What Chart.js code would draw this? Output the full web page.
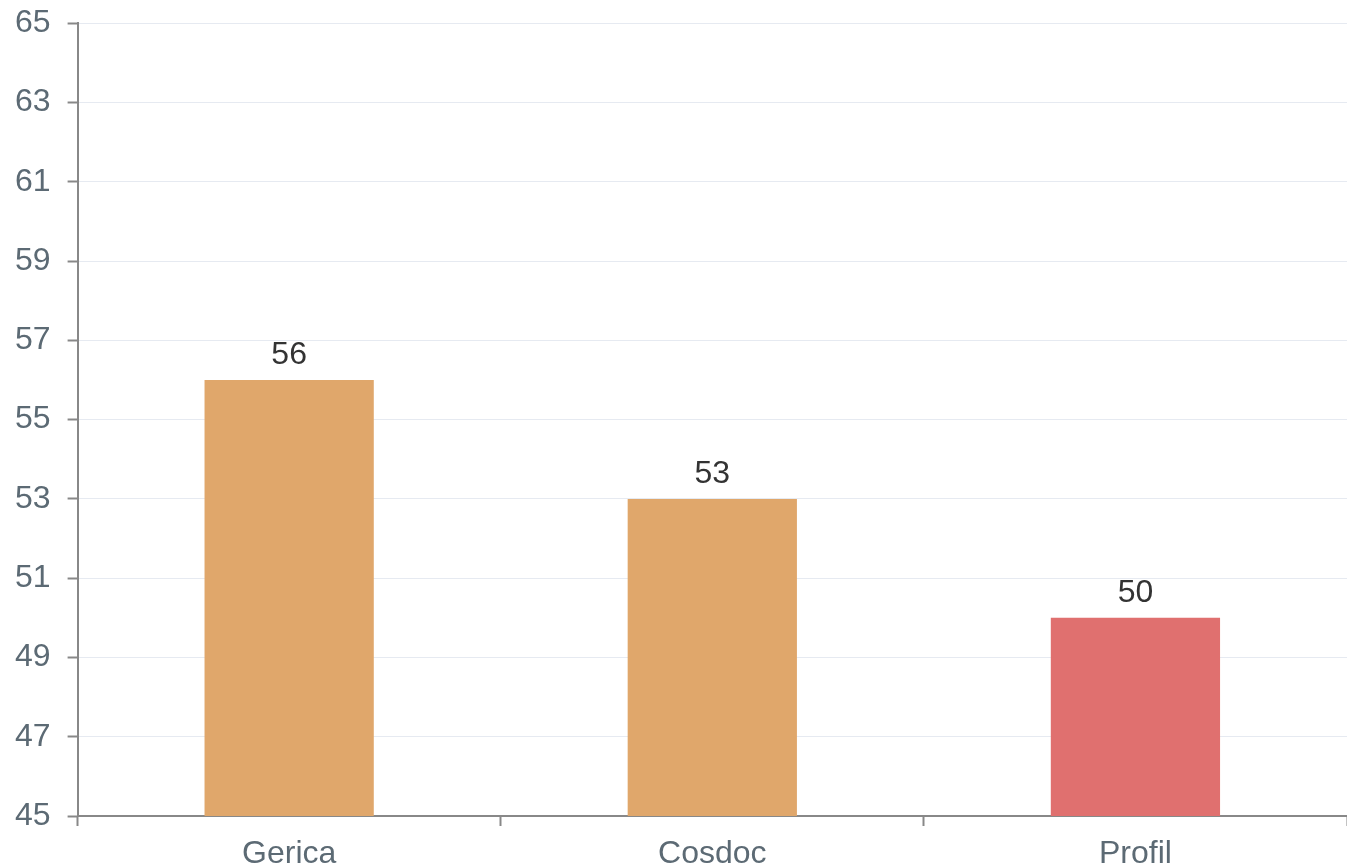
<!DOCTYPE html>
<html lang="en">
<head>
  <meta charset="UTF-8">
  <title>Bar chart</title>
  <script src="https://cdn.jsdelivr.net/npm/chart.js"></script>
  <style>
    html, body {
      margin: 0;
      padding: 0;
      background-color: #fff;
      overflow: hidden;
    }
    #wrap {
      width: 1357px;
      height: 881px;
      margin: -13px 0 0 -10px;
    }
  </style>
</head>
<body>
  <div id="wrap">
    <canvas id="barChart"></canvas>
  </div>

  <script>
    const categories = ['Gerica', 'Cosdoc', 'Profil'];
    const values = [56, 53, 50];
    const barColors = ['#E0A76B', '#E0A76B', '#E0706F'];
    const yMin = 45;
    const yMax = 65;
    const yStep = 2;

    const fontFamily = '"Liberation Sans", Arial, sans-serif';

    // draws the value above each bar
    const valueLabels = {
      id: 'valueLabels',
      afterDatasetsDraw(chart) {
        const ctx = chart.ctx;
        ctx.save();
        ctx.font = '32px ' + fontFamily;
        ctx.fillStyle = '#333333';
        ctx.textAlign = 'center';
        ctx.textBaseline = 'alphabetic';
        chart.getDatasetMeta(0).data.forEach((bar, i) => {
          ctx.fillText(values[i], bar.x, bar.y - 16);
        });
        ctx.restore();
      }
    };

    const ctx = document.getElementById('barChart').getContext('2d');

    new Chart(ctx, {
      type: 'bar',
      data: {
        labels: categories,
        datasets: [{
          data: values,
          backgroundColor: barColors,
          barPercentage: 0.4,
          categoryPercentage: 1.0
        }]
      },
      options: {
        responsive: true,
        maintainAspectRatio: false,
        animation: false,
        layout: {
          padding: { left: 8, top: 0, right: 0, bottom: 0 }
        },
        plugins: {
          legend: { display: false },
          tooltip: { enabled: false }
        },
        scales: {
          x: {
            afterFit(scale) {
              scale.height = 52;
            },
            grid: {
              drawOnChartArea: false,
              tickColor: '#888888',
              tickLength: 10,
              tickWidth: 2
            },
            border: { color: '#888888', width: 2 },
            ticks: {
              color: '#5c6a74',
              padding: 9,
              font: { family: fontFamily, size: 32 }
            }
          },
          y: {
            min: yMin,
            max: yMax,
            grid: {
              color: '#e6eaf1',
              lineWidth: 1,
              tickColor: '#888888',
              tickLength: 10,
              tickWidth: 2
            },
            border: { color: '#888888', width: 2 },
            ticks: {
              stepSize: yStep,
              color: '#5c6a74',
              padding: 17,
              font: { family: fontFamily, size: 32 }
            }
          }
        }
      },
      plugins: [valueLabels]
    });
  </script>
</body>
</html>
